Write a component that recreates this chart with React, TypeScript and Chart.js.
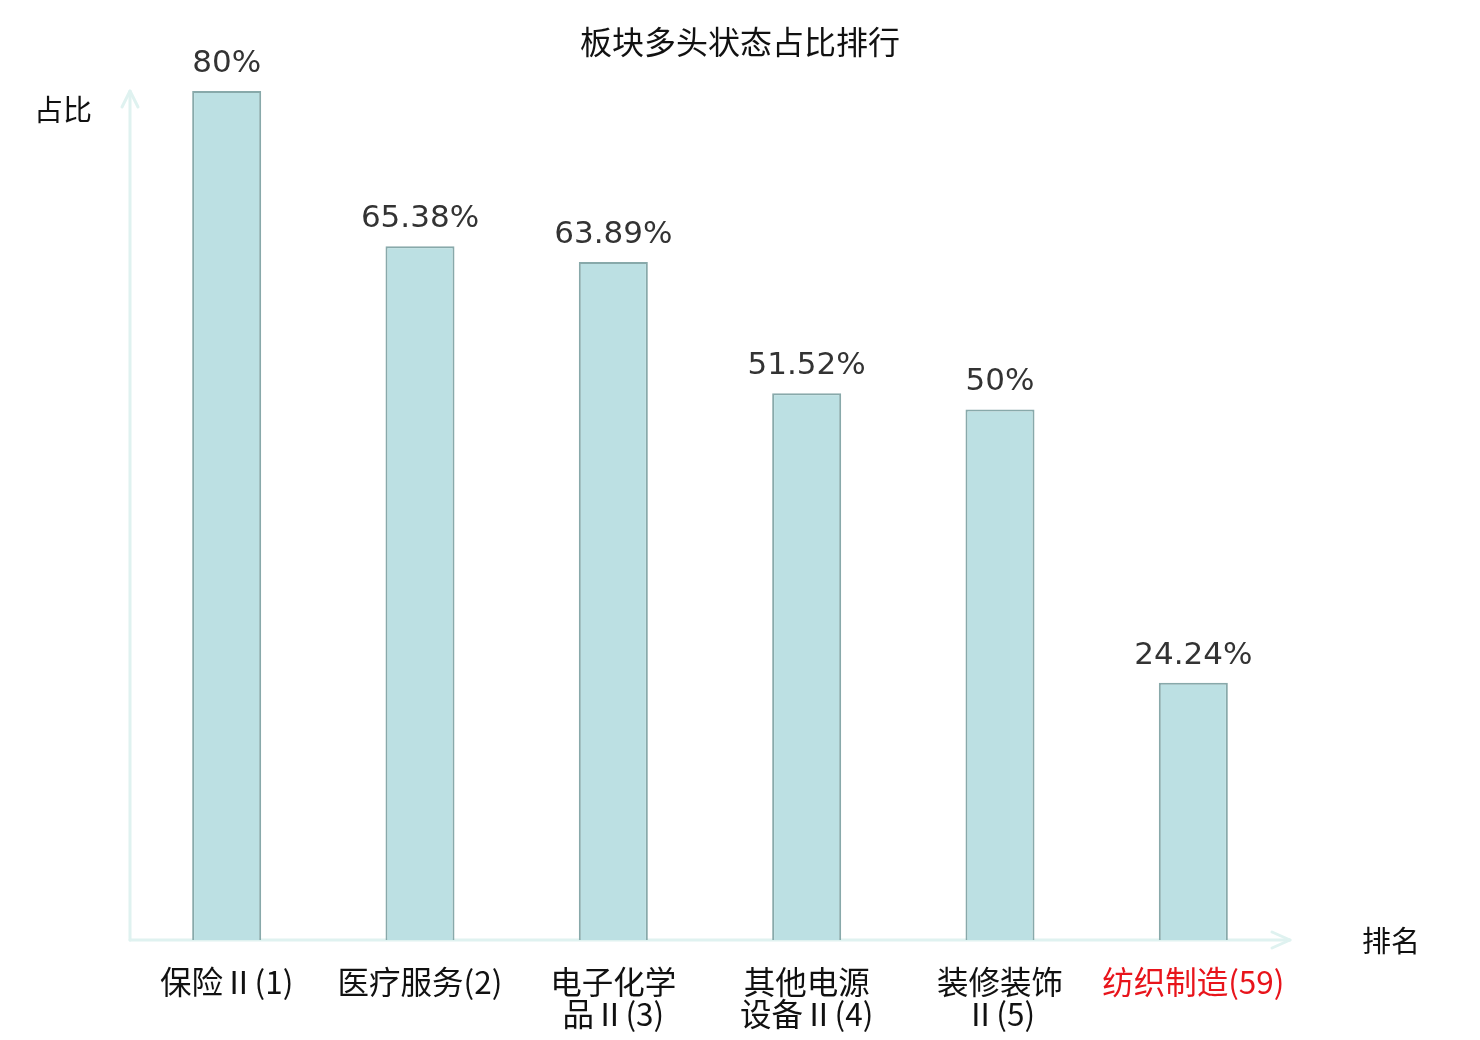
import React, { useEffect, useRef } from "react";
import { Chart, registerables } from "chart.js";

Chart.register(...registerables);

const categories: string[][] = [
  ["保险Ⅱ(1)"],
  ["医疗服务(2)"],
  ["电子化学", "品Ⅱ(3)"],
  ["其他电源", "设备Ⅱ(4)"],
  ["装修装饰", "Ⅱ(5)"],
  ["纺织制造(59)"],
];
const values: number[] = [80, 65.38, 63.89, 51.52, 50, 24.24];
const valueLabels: string[] = ["80%", "65.38%", "63.89%", "51.52%", "50%", "24.24%"];
const titleText = "板块多头状态占比排行";
const yAxisName = "占比";
const xAxisName = "排名";
const highlightIndex = 5;

const AXIS_COLOR = "#dff2f0";
const CJK = '"Noto Sans CJK SC", sans-serif';

const decorPlugin = {
  id: "decor",
  beforeDatasetsDraw(chart: any) {
    const { ctx, chartArea } = chart;
    const { left, right, top, bottom } = chartArea;
    ctx.save();
    ctx.strokeStyle = AXIS_COLOR;
    ctx.lineWidth = 3;
    ctx.lineCap = "round";
    ctx.lineJoin = "round";
    // y axis
    ctx.beginPath();
    ctx.moveTo(left, bottom);
    ctx.lineTo(left, top);
    ctx.stroke();
    ctx.beginPath();
    ctx.moveTo(left - 8, top + 16);
    ctx.lineTo(left, top);
    ctx.lineTo(left + 8, top + 16);
    ctx.stroke();
    // x axis
    ctx.beginPath();
    ctx.moveTo(left, bottom);
    ctx.lineTo(right, bottom);
    ctx.stroke();
    ctx.beginPath();
    ctx.moveTo(right - 18, bottom - 8);
    ctx.lineTo(right, bottom);
    ctx.lineTo(right - 18, bottom + 8);
    ctx.stroke();
    ctx.restore();
  },
  afterDatasetsDraw(chart: any) {
    const { ctx } = chart;
    ctx.save();
    // title
    ctx.fillStyle = "#111";
    ctx.font = `32px ${CJK}`;
    ctx.textAlign = "center";
    ctx.textBaseline = "middle";
    ctx.fillText(titleText, 740, 42);
    // axis names
    ctx.font = `29px ${CJK}`;
    ctx.fillText(yAxisName, 63, 110);
    ctx.fillText(xAxisName, 1391, 941);
    // value labels
    const meta = chart.getDatasetMeta(0);
    ctx.fillStyle = "#333";
    ctx.font = `31px "DejaVu Sans", sans-serif`;
    ctx.textBaseline = "alphabetic";
    meta.data.forEach((bar: any, i: number) => {
      ctx.fillText(valueLabels[i], bar.x, bar.y - 19);
    });
    ctx.restore();
  },
};

export default function App() {
  const ref = useRef<HTMLCanvasElement | null>(null);
  useEffect(() => {
    if (!ref.current) return;
    const chart = new Chart(ref.current, {
      type: "bar",
      data: {
        labels: categories,
        datasets: [
          {
            data: values,
            backgroundColor: "#bce0e3",
            borderColor: "#88a9aa",
            borderWidth: 2,
            barPercentage: 0.357,
            categoryPercentage: 1,
          },
        ],
      },
      options: {
        animation: false,
        responsive: false,
        maintainAspectRatio: false,
        layout: { padding: { left: 130, right: 190, top: 91, bottom: 0 } },
        plugins: {
          legend: { display: false },
          tooltip: { enabled: false },
          title: { display: false },
        },
        scales: {
          x: {
            grid: { display: false, drawTicks: false },
            border: { display: false },
            ticks: {
              autoSkip: false,
              maxRotation: 0,
              minRotation: 0,
              padding: 26,
              color: (c: any) => (c.index === highlightIndex ? "#e8141b" : "#111"),
              font: { family: CJK, size: 31.5, lineHeight: 1.02 },
            },
            afterFit: (s: any) => {
              s.height = 100;
            },
          },
          y: {
            display: false,
            min: 0,
            max: 80,
          },
        },
      },
      plugins: [decorPlugin],
    });
    return () => chart.destroy();
  }, []);
  return (
    <div style={{ position: "fixed", left: 0, top: 0, width: 1480, height: 1040, background: "#fff" }}>
      <canvas ref={ref} width={1480} height={1040} style={{ width: 1480, height: 1040 }} />
    </div>
  );
}
